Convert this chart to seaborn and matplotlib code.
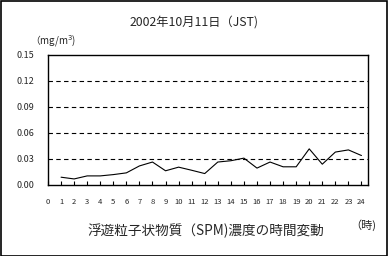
import matplotlib
matplotlib.use("Agg")
import matplotlib.pyplot as plt
import seaborn as sns
import pandas as pd

hours = list(range(1, 25))
spm = [0.009, 0.007, 0.0105, 0.0105, 0.012, 0.014, 0.022, 0.0265, 0.0164, 0.0206,
       0.017, 0.0132, 0.0265, 0.028, 0.031, 0.0195, 0.0265, 0.021, 0.021, 0.0417,
       0.024, 0.038, 0.0405, 0.034]
yticks = [0.00, 0.03, 0.06, 0.09, 0.12, 0.15]
ytick_labels = ["0.00", "0.03", "0.06", "0.09", "0.12", "0.15"]
xticks = list(range(0, 25))

title = "2002年10月11日（JST)"
unit = "（mg/m$^3$)"
xlabel = "浮遊粒子状物質（SPM)濃度の時間変動"
xunit = "（時)"

sns.set_theme(style="white")
plt.rcParams['font.family'] = ['Noto Sans CJK JP', 'DejaVu Sans']

fig = plt.figure(figsize=(3.88, 2.56), dpi=100)
fig.patch.set_facecolor("white")
ax = fig.add_axes([48/388, 1-185/256, 320/388, 130/256])

df = pd.DataFrame({"hour": hours, "spm": spm})
sns.lineplot(data=df, x="hour", y="spm", ax=ax, color="black", linewidth=0.8)

for y in yticks[1:-1]:
    ax.axhline(y, color="black", linestyle=(0, (4, 3)), linewidth=0.8, zorder=0)

ax.set_xlim(0, 24.5)
ax.set_ylim(0, 0.15)
ax.set_yticks(yticks)
ax.set_yticklabels(ytick_labels, fontsize=6.5)
ax.set_xticks(xticks)
ax.set_xticklabels([str(x) for x in xticks], fontsize=5.5)
ax.tick_params(axis="x", direction="in", length=3, width=0.8, pad=9, color="black", bottom=True)
ax.tick_params(axis="y", length=0, pad=10)
ax.set_xlabel("")
ax.set_ylabel("")
for s in ax.spines.values():
    s.set_color("black")
    s.set_linewidth(1.0)

fig.text(194/388, 1-22/256, title, ha="center", va="center", fontsize=8.8)
fig.text(30/388, 1-41/256, unit, ha="left", va="center", fontsize=7)
fig.text(206/388, 1-231/256, xlabel, ha="center", va="center", fontsize=9.8)
fig.text(363/388, 1-225/256, xunit, ha="center", va="center", fontsize=8)

border = plt.Rectangle((0.5/388, 0.5/256), 386.5/388, 254.5/256, transform=fig.transFigure,
                       fill=False, edgecolor="black", linewidth=1.2)
fig.patches.append(border)

fig.savefig("out.png", dpi=100)
